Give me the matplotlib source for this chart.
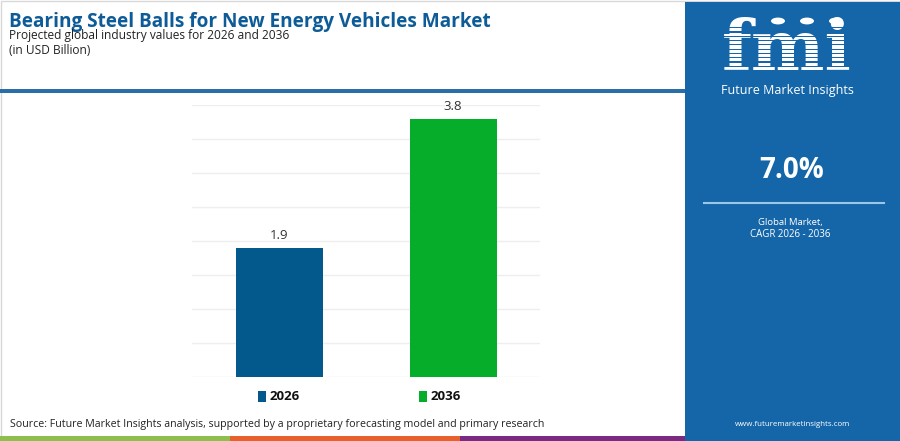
import matplotlib
matplotlib.use("Agg")
import matplotlib.pyplot as plt
from matplotlib.patches import Rectangle, Circle
import numpy as np

# data
years = ["2026", "2036"]
values = [1.9, 3.8]
bar_colors = ["#03588c", "#06ad2b"]
cagr_text = "7.0%"
title = "Bearing Steel Balls for New Energy Vehicles Market"
subtitle = "Projected global industry values for 2026 and 2036"
unit_text = "(in USD Billion)"
source = "Source: Future Market Insights analysis, supported by a proprietary forecasting model and primary research"

W, H = 900, 441
plt.rcParams['font.family'] = ['Open Sans', 'DejaVu Sans']

fig = plt.figure(figsize=(W / 100, H / 100), dpi=100)
fig.patch.set_facecolor("white")


def fx(x):
    return x / W


def fy(y):
    return 1 - y / H


def rect(x0, y0, x1, y1, color, z=1, **kw):
    fig.add_artist(Rectangle((fx(x0), fy(y1)), fx(x1 - x0), (y1 - y0) / H,
                             transform=fig.transFigure, facecolor=color,
                             edgecolor="none", zorder=z, **kw))


# frame and header line
fig.add_artist(Rectangle((fx(0.5), fy(440.5)), fx(899), 440 / H, transform=fig.transFigure,
                         facecolor="none", edgecolor="#d8d8d8", linewidth=1, zorder=0))
rect(0, 89, 686, 93, "#2a6ea8")

# bottom colour stripes
rect(0, 436, 230, 441, "#8cc04b")
rect(230, 436, 460, 441, "#e8602c")
rect(460, 436, 686, 441, "#7b2a84")

# right panel
panel = "#1566a8"
rect(685, 2, 900, 441, panel)

# logo
fig.text(fx(787), fy(50), "fmi", color="white", fontsize=50, fontweight="bold",
         family="DejaVu Serif", ha="center", va="center", zorder=5)
for yy in np.arange(27, 78, 4.3):
    rect(715, yy, 860, yy + 1.2, panel, z=6)
for cx in [778, 807, 836]:
    fig.add_artist(Circle((fx(cx), fy(21)), 7 / W, transform=fig.transFigure,
                          facecolor="white", edgecolor="none", zorder=7))
fig.text(fx(787), fy(91), "Future Market Insights", color="white", fontsize=9,
         ha="center", va="center", zorder=7)

fig.text(fx(792), fy(170), cagr_text, color="white", fontsize=20, fontweight="bold",
         ha="center", va="center")
fig.add_artist(plt.Line2D([fx(704), fx(884)], [fy(203), fy(203)], color="#9cc6ea",
                          linewidth=1.5, transform=fig.transFigure))
fig.text(fx(790), fy(222), "Global Market,", color="white", fontsize=6.8,
         ha="center", va="center")
fig.text(fx(790), fy(234), "CAGR 2026 - 2036", color="white", fontsize=7,
         ha="center", va="center")
fig.text(fx(793), fy(425), "www.futuremarketinsights.com", color="white", fontsize=5.7,
         ha="center", va="center")

# titles
fig.text(fx(9), fy(27), title, color="#0d5c98", fontsize=13.7, fontweight="bold",
         ha="left", va="baseline")
fig.text(fx(9), fy(35), subtitle, color="#222222", fontsize=8.6,
         ha="left", va="center")
fig.text(fx(9), fy(51), unit_text, color="#222222", fontsize=8.6,
         ha="left", va="center")

# chart
ax = fig.add_axes([fx(192), fy(377), fx(540 - 192), (377 - 105) / H])
x = np.arange(len(years))
ax.bar(x, values, width=0.5, color=bar_colors, zorder=3)
for xi, v in zip(x, values):
    ax.text(xi, v + 0.08, f"{v}", ha="center", va="bottom", fontsize=9.5, color="#333333")
ax.set_xlim(-0.5, 1.5)
ax.set_ylim(0, 4)
ax.set_yticks(np.arange(0, 4.01, 0.5))
ax.grid(axis="y", color="#eeeeee", linewidth=1, zorder=0)
ax.set_xticks([])
ax.tick_params(left=False, labelleft=False)
for s in ax.spines.values():
    s.set_visible(False)

# legend
for xs, lab, c in zip([258, 419], years, bar_colors):
    rect(xs, 391, xs + 8, 402, c)
    fig.text(fx(xs + 12), fy(397), lab, color="#111111", fontsize=9.5, fontweight="bold",
             ha="left", va="center")

fig.text(fx(10), fy(425), source, color="#222222", fontsize=7.7, ha="left", va="center")

fig.savefig("out.png", dpi=100)
